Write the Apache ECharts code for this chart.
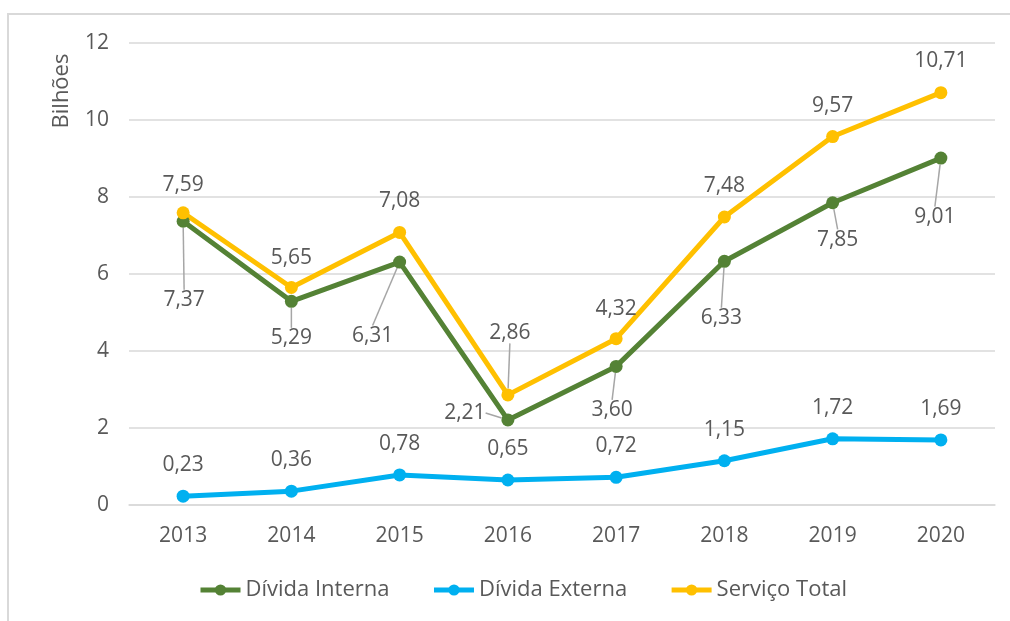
<!DOCTYPE html>
<html>
<head>
<meta charset="utf-8">
<script src="https://cdn.jsdelivr.net/npm/echarts@6/dist/echarts.min.js"></script>
<style>html,body{margin:0;padding:0;background:#fff}#c{width:1010px;height:621px}</style>
</head>
<body>
<div id="c"></div>
<script>
const years = ['2013','2014','2015','2016','2017','2018','2019','2020'];
const dividaInterna = [7.37, 5.29, 6.31, 2.21, 3.60, 6.33, 7.85, 9.01];
const dividaExterna = [0.23, 0.36, 0.78, 0.65, 0.72, 1.15, 1.72, 1.69];
const servicoTotal = [7.59, 5.65, 7.08, 2.86, 4.32, 7.48, 9.57, 10.71];
const yTicks = [0, 2, 4, 6, 8, 10, 12];

// label offsets (layout only)
const internaOffsets = [[1,79],[0,37],[-27,74],[-43,-7],[-4,44],[-3,57],[5,37],[-6,59]];
const totalOffsets = [[0,-28],[0,-29],[0,-31],[2,-62],[0,-30],[0,-31],[0,-31],[0,-32]];
const externaOffsets = [[0,-31],[0,-31],[0,-31],[0,-31],[0,-31],[0,-31],[0,-31],[0,-31]];
const internaLeader = [true,true,true,true,true,true,true,true];
const totalLeader = [false,false,false,true,false,false,false,false];

const textColor = '#595959';
const fontFamily = 'Open Sans';
const fmt = v => v.toFixed(2).replace('.', ',');

function buildData(values, leaders) {
  return values.map((v, i) => ({
    value: v,
    labelLine: { show: !!(leaders && leaders[i]) }
  }));
}

function makeSeries(name, values, color, offsets, leaders) {
  return {
    name: name,
    type: 'line',
    data: buildData(values, leaders),
    symbol: 'circle',
    symbolSize: 13,
    itemStyle: { color: color },
    lineStyle: { color: color, width: 5 },
    label: {
      show: true,
      position: 'inside',
      formatter: p => fmt(p.value),
      color: textColor,
      fontFamily: fontFamily,
      fontSize: 21
    },
    labelLine: {
      show: false,
      lineStyle: { color: '#a6a6a6', width: 1.5 }
    },
    labelLayout: p => ({ dx: offsets[p.dataIndex][0], dy: offsets[p.dataIndex][1], hideOverlap: false }),
    emphasis: { disabled: true },
    z: 3
  };
}

const chart = echarts.init(document.getElementById('c'), null, { renderer: 'canvas' });
chart.setOption({
  animation: false,
  backgroundColor: '#ffffff',
  textStyle: { fontFamily: fontFamily },
  grid: { left: 129, right: 15, top: 43, bottom: 116 },
  graphic: [
    { type: 'rect', shape: { x: 8, y: 14, width: 1200, height: 800 }, style: { fill: 'none', stroke: '#d9d9d9', lineWidth: 2 }, silent: true, z: 0 },
    { type: 'text', x: 62, y: 91, rotation: Math.PI / 2, style: { text: 'Bilhões', fill: textColor, font: '22px "Open Sans"', textAlign: 'center', textVerticalAlign: 'middle' } }
  ],
  legend: {
    left: 193,
    top: 574,
    itemWidth: 40,
    itemHeight: 14,
    itemGap: 42,
    lineStyle: { width: 5 },
    textStyle: { color: textColor, fontSize: 22, fontFamily: fontFamily },
    data: ['Dívida Interna', 'Dívida Externa', 'Serviço Total']
  },
  xAxis: {
    type: 'category',
    data: years,
    boundaryGap: true,
    axisLine: { show: true, lineStyle: { color: '#d9d9d9', width: 1.5 } },
    axisTick: { show: false },
    axisLabel: { color: textColor, fontSize: 21, margin: 21, fontFamily: fontFamily }
  },
  yAxis: {
    type: 'value',
    min: yTicks[0],
    max: yTicks[yTicks.length - 1],
    interval: 2,
    axisLine: { show: false },
    axisTick: { show: false },
    splitLine: { lineStyle: { color: '#d9d9d9', width: 1.5 } },
    axisLabel: { color: textColor, fontSize: 21, margin: 20, fontFamily: fontFamily }
  },
  series: [
    makeSeries('Dívida Interna', dividaInterna, '#548235', internaOffsets, internaLeader),
    makeSeries('Dívida Externa', dividaExterna, '#00b0f0', externaOffsets, null),
    makeSeries('Serviço Total', servicoTotal, '#ffc000', totalOffsets, totalLeader)
  ]
});
</script>
</body>
</html>
